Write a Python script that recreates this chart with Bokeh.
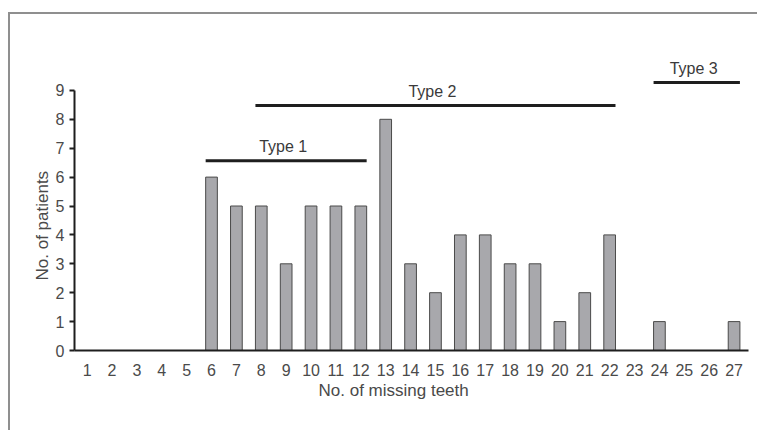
from bokeh.plotting import figure
from bokeh.models import Range1d, FixedTicker, Title, ColumnDataSource
from bokeh.core.properties import value
from bokeh.embed import file_html
from bokeh.resources import INLINE

# ---- data ----
teeth = list(range(1, 28))
patients = [0, 0, 0, 0, 0, 6, 5, 5, 3, 5, 5, 5, 8, 3, 2, 4, 4, 3, 3, 1, 2, 4, 0, 1, 0, 0, 1]
y_ticks = list(range(0, 10))
type_names = ["Type 1", "Type 2", "Type 3"]
type_first = [6, 8, 24]
type_last = [12, 22, 27]
type_level = [6.57, 8.48, 9.27]

FONT = "Liberation Sans"
BAR_W = 0.47
half = BAR_W / 2

p = figure(frame_width=674, frame_height=289,
           x_range=Range1d(0.494, 27.58), y_range=Range1d(0, 10),
           output_backend="svg", toolbar_location=None,
           min_border_left=64, min_border_right=9,
           min_border_top=47, min_border_bottom=80)
p.styles = {"border-top": "2px solid #8f8f8f", "border-left": "2px solid #8f8f8f",
            "margin-top": "12px", "margin-left": "8px"}
p.outline_line_color = None
p.xgrid.visible = False
p.ygrid.visible = False
p.background_fill_color = "white"
p.border_fill_color = "white"

src = ColumnDataSource(dict(x=teeth, top=patients))
p.vbar(x="x", top="top", width=BAR_W, source=src,
       fill_color="#a8a8ac", line_color="#4a4a4a", line_width=1)

tsrc = ColumnDataSource(dict(
    x0=[a - half for a in type_first],
    x1=[b + half for b in type_last],
    y=type_level,
    xm=[(a + b) / 2 for a, b in zip(type_first, type_last)],
    name=type_names))
p.segment(x0="x0", x1="x1", y0="y", y1="y", source=tsrc,
          line_color="#1e1e1e", line_width=3)
p.text(x="xm", y="y", text="name", source=tsrc, y_offset=-14, x_offset=-3,
       text_align="center", text_baseline="middle",
       text_font=value(FONT), text_font_size="16px", text_color="#3a3a3a")

# axes
p.xaxis.ticker = FixedTicker(ticks=teeth)
p.xaxis.major_tick_line_color = None
p.xaxis.minor_tick_line_color = None
p.xaxis.major_label_standoff = 7
p.yaxis.ticker = FixedTicker(ticks=y_ticks)
p.yaxis.bounds = (0, 9)
p.yaxis.major_tick_out = 5
p.yaxis.major_tick_in = 0
p.yaxis.minor_tick_line_color = None
p.yaxis.major_tick_line_color = "#1e1e1e"
p.yaxis.major_tick_line_width = 2
p.yaxis.major_label_standoff = 5
for ax in (p.xaxis, p.yaxis):
    ax.axis_line_width = 2
    ax.axis_line_color = "#1e1e1e"
    ax.major_label_text_font = FONT
    ax.major_label_text_font_size = "16px"
    ax.major_label_text_color = "#4a4a4a"

p.add_layout(Title(text="No. of missing teeth", align="left", offset=244,
                   text_font=FONT, text_font_size="17px", text_font_style="normal",
                   text_color="#4a4a4a", standoff=0), "below")
p.add_layout(Title(text="No. of patients", align="left", offset=70,
                   text_font=FONT, text_font_size="17px", text_font_style="normal",
                   text_color="#4a4a4a", standoff=2), "left")

open("out.html", "w").write(file_html(p, INLINE))
